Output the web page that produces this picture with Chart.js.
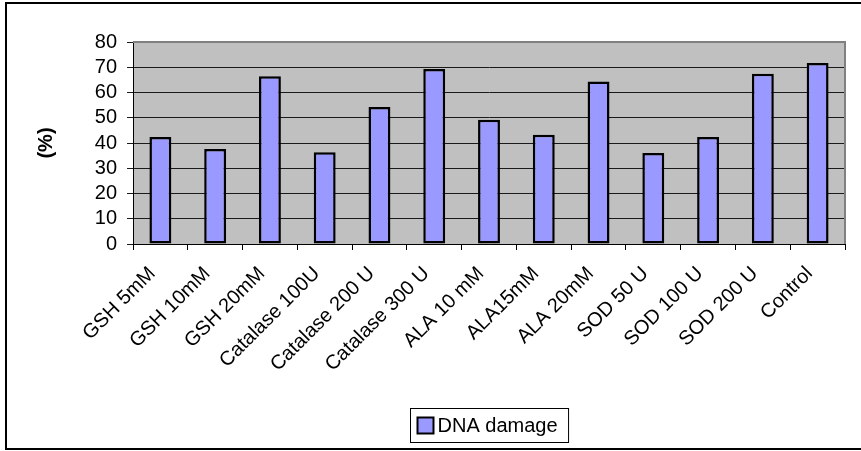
<!DOCTYPE html>
<html>
<head>
<meta charset="utf-8">
<script src="https://cdn.jsdelivr.net/npm/chart.js@4/dist/chart.umd.min.js"></script>
<style>
  html, body { margin: 0; padding: 0; background: #fff; }
  #wrap { width: 861px; height: 451px; }
</style>
</head>
<body>
<div id="wrap"><canvas id="c" width="861" height="451"></canvas></div>
<script>
// Treatments along the x axis
const categories = [
  'GSH 5mM', 'GSH 10mM', 'GSH 20mM',
  'Catalase 100U', 'Catalase 200 U', 'Catalase 300 U',
  'ALA 10 mM', 'ALA15mM', 'ALA 20mM',
  'SOD 50 U', 'SOD 100 U', 'SOD 200 U', 'Control'
];
// DNA damage (%) per treatment
const dnaDamage = [42.4, 37.6, 66.4, 36.3, 54.3, 69.3, 49.2, 43.3, 64.4, 36.0, 42.4, 67.4, 71.7];
const seriesLabel = 'DNA damage';
const yTicks = [0, 10, 20, 30, 40, 50, 60, 70, 80];
const yTitle = '(%)';

const FONT = 'Liberation Sans, Arial, sans-serif';
const FS = 20;

// Grey plot background plus grey top/right frame, outer chart frame and boxed legend
const decor = {
  id: 'decor',
  beforeDraw(chart) {
    const { ctx, chartArea: a } = chart;
    ctx.save();
    ctx.fillStyle = '#c0c0c0';
    ctx.fillRect(a.left, a.top, a.right - a.left, a.bottom - a.top);
    ctx.restore();
  },
  afterDraw(chart) {
    const { ctx, chartArea: a } = chart;
    ctx.save();
    // grey frame on top and right of the plot
    ctx.strokeStyle = '#808080';
    ctx.lineWidth = 2;
    ctx.beginPath();
    ctx.moveTo(a.left, a.top);
    ctx.lineTo(a.right, a.top);
    ctx.lineTo(a.right, a.bottom);
    ctx.stroke();

    // outer chart border
    ctx.strokeStyle = '#000';
    ctx.lineWidth = 2;
    ctx.beginPath();
    ctx.moveTo(870, 3);
    ctx.lineTo(6, 3);
    ctx.lineTo(6, 449);
    ctx.lineTo(870, 449);
    ctx.stroke();

    // legend box
    const ds = chart.data.datasets[0];
    ctx.font = FS + 'px ' + FONT;
    const tw = ctx.measureText(ds.label).width;
    const sw = 16, gap = 4, padL = 7, padR = 11;
    const boxW = padL + sw + gap + tw + padR;
    const boxH = 34;
    const cx = (a.left + a.right) / 2;
    const bx = Math.round(cx - boxW / 2) + 0.5, by = 408.5;
    ctx.fillStyle = '#fff';
    ctx.fillRect(bx, by, boxW, boxH);
    ctx.strokeStyle = '#000';
    ctx.lineWidth = 1;
    ctx.strokeRect(bx, by, boxW, boxH);
    ctx.fillStyle = ds.backgroundColor;
    ctx.fillRect(bx + padL, by + 9, sw, sw);
    ctx.lineWidth = 2;
    ctx.strokeRect(bx + padL, by + 9, sw, sw);
    ctx.fillStyle = '#000';
    ctx.textBaseline = 'middle';
    ctx.textAlign = 'left';
    ctx.fillText(ds.label, bx + padL + sw + gap, by + boxH / 2 + 1);
    ctx.restore();
  }
};

new Chart(document.getElementById('c'), {
  type: 'bar',
  data: {
    labels: categories,
    datasets: [{
      label: seriesLabel,
      data: dnaDamage,
      backgroundColor: '#9999ff',
      borderColor: '#000',
      borderWidth: 2.5,
      borderSkipped: false,
      barPercentage: 0.4,
      categoryPercentage: 1.0
    }]
  },
  options: {
    responsive: false,
    animation: false,
    layout: { padding: { left: 0, top: 42, right: 16, bottom: 0 } },
    plugins: {
      legend: { display: false },
      tooltip: { enabled: false }
    },
    scales: {
      x: {
        offset: true,
        grid: {
          offset: true,
          drawOnChartArea: false,
          drawTicks: true,
          tickLength: 6,
          color: '#000',
          lineWidth: 1
        },
        border: { color: '#000', width: 1 },
        ticks: {
          color: '#000',
          font: { family: FONT, size: FS },
          minRotation: 45,
          maxRotation: 45,
          autoSkip: false,
          padding: 12,
          labelOffset: -8
        },
        afterFit(scale) { scale.height = 207; }
      },
      y: {
        min: 0,
        max: 80,
        afterBuildTicks(scale) { scale.ticks = yTicks.map(v => ({ value: v })); },
        grid: {
          color: '#1a1a1a',
          lineWidth: 1,
          drawTicks: true,
          tickLength: 6
        },
        border: { color: '#000', width: 1 },
        ticks: {
          color: '#000',
          font: { family: FONT, size: FS },
          autoSkip: false,
          padding: 10
        },
        title: {
          display: true,
          text: yTitle,
          color: '#000',
          font: { family: FONT, size: FS, weight: 'bold' },
          padding: { top: 34, bottom: 0 }
        },
        afterFit(scale) { scale.width = 133; }
      }
    }
  },
  plugins: [decor]
});
</script>
</body>
</html>
